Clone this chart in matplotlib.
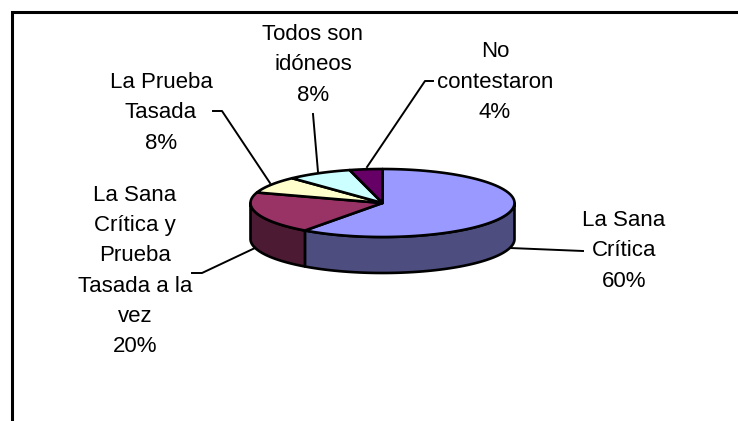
import numpy as np
import matplotlib
matplotlib.use("Agg")
import matplotlib.pyplot as plt
from matplotlib.patches import Polygon, Rectangle

plt.rcParams['font.family'] = ['Liberation Sans', 'DejaVu Sans']

categories = ["La Sana\nCrítica", "La Sana\nCrítica y\nPrueba\nTasada a la\nvez", "La Prueba\nTasada",
              "Todos son\nidóneos", "No\ncontestaron"]
values = [60, 20, 8, 8, 4]
top_colors = ["#9999FF", "#993366", "#FFFFCC", "#CCFFFF", "#660066"]
side_colors = ["#4D4D80", "#4D1A33", "#80806A", "#6A8080", "#330033"]
label_pos = [(624, 251), (135, 271), (161, 113), (313, 65), (495, 82)]
leaders = [[(510, 248), (583, 251)], [(255, 248), (202, 273), (192, 273)],
           [(270, 183), (222, 111), (213, 111)], [(318, 172), (313, 114)], [(367, 167), (425, 81), (433, 81)]]

W, H = 738, 421
fig = plt.figure(figsize=(W / 100, H / 100), dpi=100)
ax = fig.add_axes([0, 0, 1, 1])
ax.set_xlim(0, W)
ax.set_ylim(H, 0)
ax.axis('off')

cx, cy, rx, ry, depth = 382.5, 203, 132, 34, 36
ax.add_patch(Rectangle((12, 12), 800, 500, fc='white', ec='black', lw=2.2, zorder=0))

def rim(a, b):
    t = np.radians(np.linspace(a, b, max(int(abs(b - a)), 2) + 1))
    return cx + rx * np.sin(t), cy - ry * np.cos(t)

edges = np.concatenate([[0], np.cumsum(values)]) * 3.6
for a, b, side in zip(edges[:-1], edges[1:], side_colors):
    lo, hi = max(a, 90), min(b, 270)
    if lo < hi:
        x, y = rim(lo, hi)
        pts = np.r_[np.c_[x, y], np.c_[x[::-1], y[::-1] + depth]]
        ax.add_patch(Polygon(pts, fc=side, ec='black', lw=1.9, joinstyle='round', zorder=2))
for a, b, top in zip(edges[:-1], edges[1:], top_colors):
    x, y = rim(a, b)
    pts = np.r_[[[cx, cy]], np.c_[x, y]]
    ax.add_patch(Polygon(pts, fc=top, ec='black', lw=1.9, joinstyle='round', zorder=3))

for cat, val, (lx, ly), line in zip(categories, values, label_pos, leaders):
    ax.text(lx, ly, f"{cat}\n{val}%", ha='center', va='center', fontsize=16,
            linespacing=1.58, color='black', zorder=5)
    ax.plot(*zip(*line), color='black', lw=1.4, zorder=4)

fig.savefig("out.png", dpi=100, facecolor='white')
